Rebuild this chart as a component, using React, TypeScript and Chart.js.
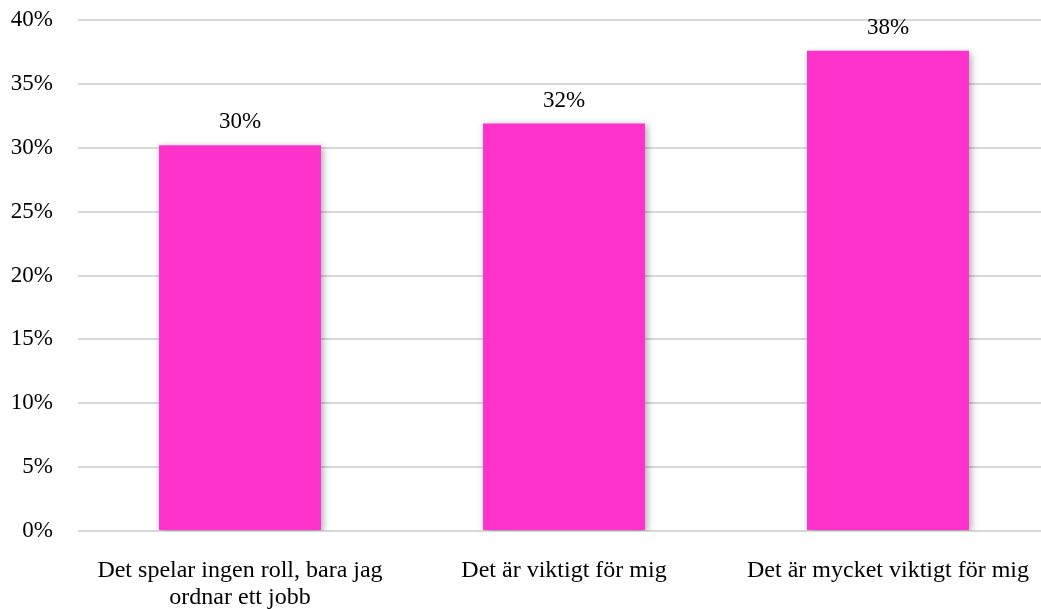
import React, { useEffect, useRef } from "react";
import { Chart, registerables } from "chart.js";

Chart.register(...registerables);

const categories: (string | string[])[] = [
  ["Det spelar ingen roll, bara jag", "ordnar ett jobb"],
  "Det är viktigt för mig",
  "Det är mycket viktigt för mig",
];
const values: number[] = [30.2, 31.9, 37.6];
const valueLabels: string[] = ["30%", "32%", "38%"];
const yTicks: number[] = [0, 5, 10, 15, 20, 25, 30, 35, 40];

const FONT = '"Liberation Serif", "Times New Roman", serif';

const shadowPlugin = {
  id: "barShadow",
  beforeDatasetDraw(chart: any) {
    const ctx = chart.ctx;
    ctx.save();
    ctx.shadowColor = "rgba(0,0,0,0.35)";
    ctx.shadowBlur = 7;
    ctx.shadowOffsetX = 2;
    ctx.shadowOffsetY = 2;
  },
  afterDatasetDraw(chart: any) {
    chart.ctx.restore();
  },
};

const labelPlugin = {
  id: "valueLabels",
  afterDatasetsDraw(chart: any) {
    const ctx = chart.ctx;
    const meta = chart.getDatasetMeta(0);
    ctx.save();
    ctx.font = `23px ${FONT}`;
    ctx.fillStyle = "#000";
    ctx.textAlign = "center";
    ctx.textBaseline = "middle";
    meta.data.forEach((bar: any, i: number) => {
      ctx.fillText(valueLabels[i], bar.x, bar.y - 23);
    });
    ctx.restore();
  },
};

export default function App() {
  const ref = useRef<HTMLCanvasElement>(null);
  useEffect(() => {
    if (!ref.current) return;
    const chart = new Chart(ref.current, {
      type: "bar",
      data: {
        labels: categories,
        datasets: [
          {
            data: values,
            backgroundColor: "#FF33CC",
            borderWidth: 0,
            barPercentage: 0.5,
            categoryPercentage: 1,
          },
        ],
      },
      options: {
        responsive: false,
        animation: false,
        layout: { padding: { top: 20, right: 12, left: 0, bottom: 0 } },
        plugins: { legend: { display: false }, tooltip: { enabled: false } },
        scales: {
          x: {
            afterFit: (s: any) => {
              s.height = 78;
              s.paddingLeft = 0;
              s.paddingRight = 0;
            },
            grid: { display: false, drawTicks: false },
            border: { display: false },
            ticks: {
              color: "#000",
              font: { family: FONT, size: 24, lineHeight: 1.125 },
              padding: 26,
              maxRotation: 0,
              autoSkip: false,
            },
          },
          y: {
            min: 0,
            max: 40,
            afterFit: (s: any) => {
              s.width = 78;
              s.paddingTop = 0;
              s.paddingBottom = 0;
            },
            afterBuildTicks: (s: any) => {
              s.ticks = yTicks.map((v) => ({ value: v }));
            },
            grid: { color: "#D9D9D9", lineWidth: 2, drawTicks: false },
            border: { display: false },
            ticks: {
              color: "#000",
              font: { family: FONT, size: 23 },
              padding: 25,
              callback: (v: any) => `${v}%`,
            },
          },
        },
      },
      plugins: [shadowPlugin, labelPlugin],
    });
    return () => chart.destroy();
  }, []);
  return (
    <div
      style={{
        position: "fixed",
        left: 0,
        top: 0,
        width: 1041,
        height: 609,
        overflow: "hidden",
        background: "#fff",
      }}
    >
      <canvas ref={ref} width={1062} height={609} style={{ width: 1062, height: 609 }} />
    </div>
  );
}
